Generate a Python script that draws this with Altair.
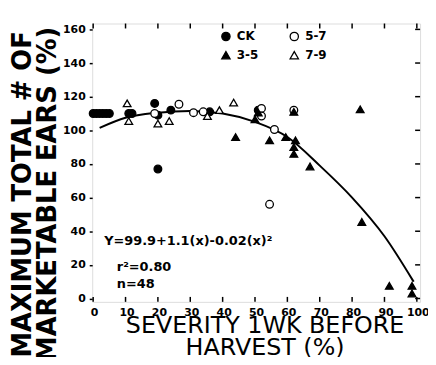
import altair as alt
import pandas as pd

# ---- data ----
groups = ["CK", "5-7", "3-5", "7-9"]

ck_x = [0, 1, 2, 3, 4, 5, 11, 12, 19, 20, 20, 24, 36, 51]
ck_y = [110, 110, 110, 110, 110, 110, 110, 110, 116, 109, 77, 112, 111, 112]

o57_x = [19, 26.5, 31, 34, 52, 52, 56, 54.5, 62]
o57_y = [110, 115.5, 110.5, 111, 113, 108.5, 100.5, 56, 112]

t35_x = [44, 50, 51, 54.5, 59.5, 62, 62.5, 62, 62, 67, 82.5, 83, 91.5, 98.5, 98.5]
t35_y = [96, 106.5, 110.5, 94, 96, 111, 94, 90, 86, 78.5, 112.5, 45.5, 7.5, 7.5, 3]

t79_x = [10.5, 11, 20, 23.5, 35.3, 39, 43.4]
t79_y = [116, 105.5, 104, 105.5, 108.5, 112, 116.5]

curve_x = [2, 10, 20, 30, 40, 50, 60, 70, 80, 90, 99]
curve_y = [101.5, 107.5, 110.5, 111.5, 110, 105, 96, 79, 60, 37, 10]

x_ticks = [0, 10, 20, 30, 40, 50, 60, 70, 80, 90, 100]
y_ticks = [0, 20, 40, 60, 80, 100, 120, 140, 160]

note_text = ["Y=99.9+1.1(x)-0.02(x)²", "r²=0.80", "n=48"]
note_x = [3.4, 7.3, 7.3]
note_y = [34, 18.8, 8.6]

# ---- tables ----
rows = []
for g, xs_, ys_ in [("CK", ck_x, ck_y), ("5-7", o57_x, o57_y),
                    ("3-5", t35_x, t35_y), ("7-9", t79_x, t79_y)]:
    for a, b in zip(xs_, ys_):
        rows.append({"group": g, "x": a, "y": b})
pts = pd.DataFrame(rows)
curve = pd.DataFrame({"x": curve_x, "y": curve_y})
notes = pd.DataFrame({"t": note_text, "x": note_x, "y": note_y})
xt = pd.DataFrame({"v": x_ticks})
yt = pd.DataFrame({"v": y_ticks})

W, H = 331, 281
xs = alt.Scale(domain=[-0.3, 101], nice=False, zero=False)
ys = alt.Scale(domain=[-2, 163.5], nice=False, zero=False)

x_axis = alt.Axis(values=x_ticks, ticks=False, domain=False, grid=False,
                  labelFont="DejaVu Sans", labelFontSize=11, labelFontWeight="bold",
                  labelColor="black", labelPadding=5, labelFlush=False,
                  labelOverlap=False, labelOffset=1,
                  title=["SEVERITY 1WK BEFORE", "HARVEST (%)"],
                  titleFont="DejaVu Sans", titleFontSize=24, titleFontWeight="normal",
                  titleColor="black", titleAnchor="middle", titleAlign="center",
                  titleBaseline="alphabetic", titleLineHeight=22,
                  titleX=174, titleY=31)
y_axis = alt.Axis(values=y_ticks, ticks=True, tickSize=3, tickColor="black", tickWidth=1.5,
                  domain=False, grid=False, labelFlush=False, labelOverlap=False,
                  labelFont="DejaVu Sans", labelFontSize=11, labelFontWeight="bold",
                  labelColor="black", labelPadding=4,
                  title=["MAXIMUM TOTAL # OF", "MARKETABLE EARS (%)"],
                  titleFont="DejaVu Sans", titleFontSize=26, titleFontWeight="bold",
                  titleColor="black", titleAngle=270, titleAlign="center",
                  titleBaseline="middle", titleLineHeight=25,
                  titleX=-70, titleY=172)


def X(field):
    return alt.X(field, scale=xs, axis=x_axis)


def Y(field):
    return alt.Y(field, scale=ys, axis=y_axis)


line = alt.Chart(curve).mark_line(color="black", strokeWidth=2, interpolate="monotone").encode(
    x=X("x:Q"), y=Y("y:Q"))

points = alt.Chart(pts).mark_point(filled=True, stroke="black", strokeWidth=1.3,
                                   opacity=1, size=60).encode(
    x=X("x:Q"),
    y=Y("y:Q"),
    fill=alt.Fill("group:N", scale=alt.Scale(domain=groups,
                  range=["black", "white", "black", "white"]),
                  legend=alt.Legend(title=None, orient="none", legendX=129, legendY=7,
                                    direction="horizontal", columns=2,
                                    columnPadding=29, rowPadding=5,
                                    labelFont="DejaVu Sans", labelFontSize=12,
                                    labelFontWeight="bold", labelColor="black",
                                    labelOffset=5, symbolSize=70,
                                    symbolStrokeColor="black", symbolStrokeWidth=1.3,
                                    padding=0)),
    shape=alt.Shape("group:N", scale=alt.Scale(domain=groups,
                    range=["circle", "circle", "triangle-up", "triangle-up"])),
)

text = alt.Chart(notes).mark_text(align="left", baseline="middle", font="DejaVu Sans",
                                  fontSize=13, fontWeight="bold", color="black").encode(
    x=X("x:Q"), y=Y("y:Q"), text="t:N")

tick_bottom = alt.Chart(xt).mark_rule(color="black", strokeWidth=1.5).encode(
    x=X("v:Q"), y=alt.value(H), y2=alt.value(H - 5))
tick_top = alt.Chart(xt).mark_rule(color="black", strokeWidth=1.5).encode(
    x=X("v:Q"), y=alt.value(0), y2=alt.value(5))
tick_right = alt.Chart(yt).mark_rule(color="black", strokeWidth=1.5).encode(
    y=Y("v:Q"), x=alt.value(W), x2=alt.value(W - 5))

chart = alt.layer(line, tick_bottom, tick_top, tick_right, points, text).properties(
    width=W, height=H,
    autosize=alt.AutoSizeParams(type="none"),
    padding={"left": 85, "top": 14, "right": 8, "bottom": 54},
).configure_view(stroke="black", strokeWidth=2).configure(background="white")

chart.save("out.html", embed_options={"renderer": "svg", "actions": False})
